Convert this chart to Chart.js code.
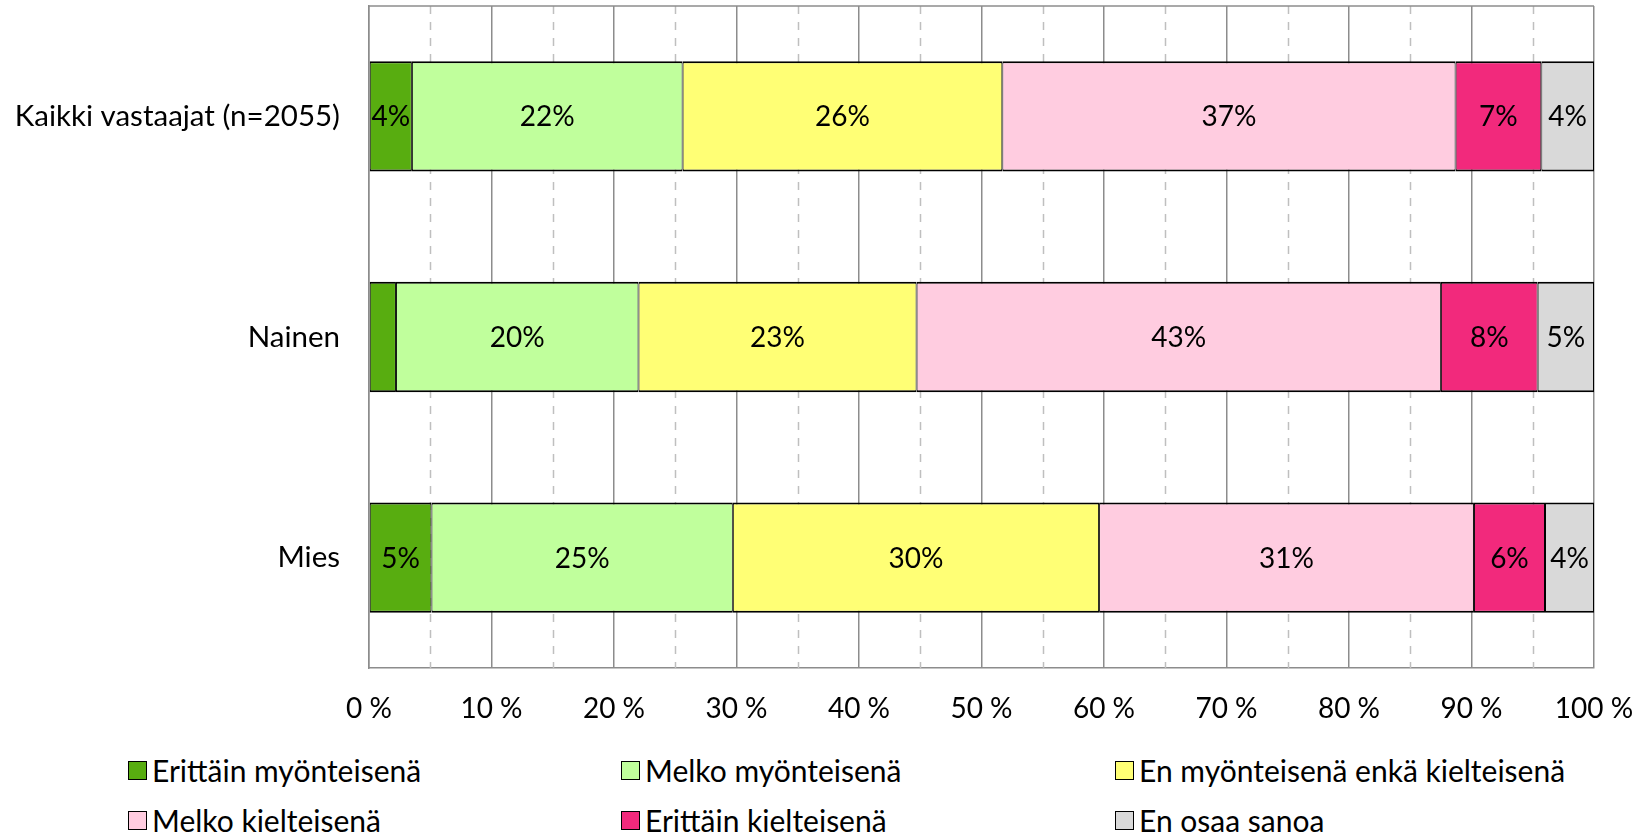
<!DOCTYPE html>
<html lang="fi">
<head>
    <meta charset="UTF-8">
    <title>Vastaukset</title>
    <style>
        body {
            margin: 0;
            background: #fff;
            font-family: 'Lato', 'Liberation Sans', sans-serif;
        }
        #wrap {
            position: absolute;
            left: 0;
            top: 0;
            width: 1638px;
            height: 740px;
        }
        #legend {
            position: absolute;
            left: 0;
            top: 752px;
            width: 1638px;
        }
        .item {
            position: absolute;
            display: flex;
            align-items: center;
            font-size: 30px;
            color: #000;
            white-space: nowrap;
        }
        .box {
            width: 17px;
            height: 17px;
            border: 1px solid #000;
            margin-right: 5px;
        }
    </style>
</head>
<body>
    <div id="wrap">
        <canvas id="bars" width="1638" height="740"></canvas>
    </div>
    <div id="legend"></div>

    <script src="https://cdn.jsdelivr.net/npm/chart.js"></script>
    <script>
        const groups = ['Kaikki vastaajat (n=2055)', 'Nainen', 'Mies'];
        const answers = ['Erittäin myönteisenä', 'Melko myönteisenä', 'En myönteisenä enkä kielteisenä',
                         'Melko kielteisenä', 'Erittäin kielteisenä', 'En osaa sanoa'];
        const colors = ['#58ad10', '#c0ff9c', '#ffff75', '#ffcce0', '#f2297c', '#d9d9d9'];

        // share (%) per answer, in the order of groups
        const veryPositive = [3.5, 2.2, 5.1];
        const fairlyPositive = [22.1, 19.8, 24.6];
        const neutral = [26.1, 22.7, 29.9];
        const fairlyNegative = [37.0, 42.8, 30.6];
        const veryNegative = [7.0, 7.9, 5.8];
        const dontKnow = [4.3, 4.6, 4.0];

        const series = [veryPositive, fairlyPositive, neutral, fairlyNegative, veryNegative, dontKnow];
        const xTicks = [0, 10, 20, 30, 40, 50, 60, 70, 80, 90, 100];

        const FONT = "'Lato', 'Liberation Sans', sans-serif";

        // dashed half-step lines + top frame, drawn under the bars
        const halfGrid = {
            id: 'halfGrid',
            beforeDatasetsDraw(chart) {
                const { ctx, chartArea, scales } = chart;
                ctx.save();
                ctx.strokeStyle = '#bfbfbf';
                ctx.lineWidth = 1.5;
                ctx.setLineDash([8, 8]);
                for (let i = 0; i < xTicks.length - 1; i++) {
                    const x = Math.round(scales.x.getPixelForValue((xTicks[i] + xTicks[i + 1]) / 2)) + 0.5;
                    ctx.beginPath();
                    ctx.moveTo(x, chartArea.top);
                    ctx.lineTo(x, chartArea.bottom);
                    ctx.stroke();
                }
                ctx.setLineDash([]);
                ctx.strokeStyle = '#8c8c8c';
                ctx.beginPath();
                ctx.moveTo(chartArea.left, chartArea.top);
                ctx.lineTo(chartArea.right, chartArea.top);
                ctx.stroke();
                ctx.restore();
            }
        };

        // percentage labels inside the segments
        const segLabels = {
            id: 'segLabels',
            afterDatasetsDraw(chart) {
                const ctx = chart.ctx;
                ctx.save();
                ctx.font = '28px ' + FONT;
                ctx.fillStyle = '#000';
                ctx.textAlign = 'center';
                ctx.textBaseline = 'middle';
                chart.data.datasets.forEach((ds, di) => {
                    chart.getDatasetMeta(di).data.forEach((bar, i) => {
                        const v = ds.data[i];
                        if (v < 3) return;
                        const p = bar.getProps(['x', 'y', 'base'], true);
                        ctx.fillText(Math.round(v) + '%', (p.x + p.base) / 2, p.y + 1);
                    });
                });
                ctx.restore();
            }
        };

        const ctx = document.getElementById('bars').getContext('2d');
        new Chart(ctx, {
            type: 'bar',
            data: {
                labels: groups,
                datasets: series.map((vals, i) => ({
                    label: answers[i],
                    data: vals,
                    backgroundColor: colors[i],
                    borderColor: '#000',
                    borderWidth: { top: 2, bottom: 2, left: 1, right: 1 },
                    borderSkipped: false,
                    barPercentage: 1,
                    categoryPercentage: 0.5
                }))
            },
            options: {
                indexAxis: 'y',
                responsive: false,
                animation: false,
                devicePixelRatio: 1,
                layout: { padding: { top: 6, right: 44, left: 0, bottom: 0 } },
                plugins: {
                    legend: { display: false },
                    tooltip: { enabled: false }
                },
                scales: {
                    x: {
                        stacked: true,
                        min: 0,
                        max: 100,
                        afterBuildTicks: (axis) => { axis.ticks = xTicks.map(v => ({ value: v })); },
                        afterFit: (axis) => {
                            axis.height = 72;
                            axis.paddingLeft = 0;
                            axis.paddingRight = 0;
                        },
                        grid: { color: '#8c8c8c', lineWidth: 1.5, drawTicks: false },
                        border: { color: '#8c8c8c', width: 1.5 },
                        ticks: {
                            padding: 24,
                            color: '#000',
                            font: { family: FONT, size: 28 },
                            callback: (v) => v + ' %'
                        }
                    },
                    y: {
                        stacked: true,
                        afterFit: (axis) => {
                            axis.width = 369;
                            axis.paddingTop = 0;
                            axis.paddingBottom = 0;
                        },
                        grid: { display: false, drawTicks: false },
                        border: { color: '#8c8c8c', width: 1.5 },
                        ticks: {
                            padding: 29,
                            color: '#000',
                            font: { family: FONT, size: 29.5 }
                        }
                    }
                }
            },
            plugins: [halfGrid, segLabels]
        });

        // legend: three columns, two rows
        const legend = document.getElementById('legend');
        const colX = [128, 621, 1115];
        answers.forEach((name, i) => {
            const el = document.createElement('div');
            el.className = 'item';
            el.style.left = colX[i % 3] + 'px';
            el.style.top = (Math.floor(i / 3) * 50) + 'px';
            el.innerHTML = '<div class="box" style="background:' + colors[i] + '"></div>' + name;
            legend.appendChild(el);
        });
    </script>
</body>
</html>
